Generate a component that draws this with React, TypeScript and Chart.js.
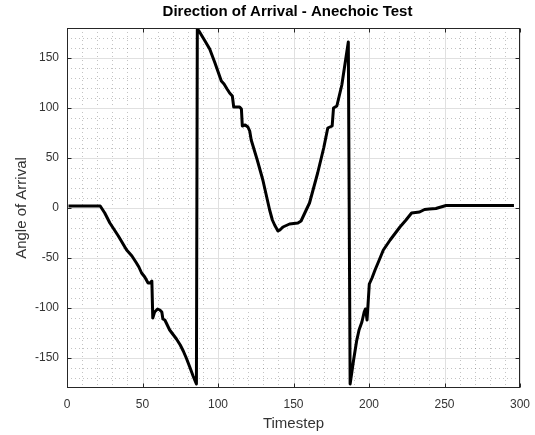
import React, { useEffect, useRef } from "react";
import { Chart, registerables } from "chart.js";

Chart.register(...registerables);

const chartTitle = "Direction of Arrival - Anechoic Test";
const xLabel = "Timestep";
const yLabel = "Angle of Arrival";

const xTicks = [0, 50, 100, 150, 200, 250, 300];
const yTicks = [-150, -100, -50, 0, 50, 100, 150];
const xMinor = [10, 20, 30, 40, 60, 70, 80, 90, 110, 120, 130, 140, 160, 170, 180, 190, 210, 220, 230, 240, 260, 270, 280, 290];
const yMinor = [-170, -160, -140, -130, -120, -110, -90, -80, -70, -60, -40, -30, -20, -10, 10, 20, 30, 40, 60, 70, 80, 90, 110, 120, 130, 140, 160, 170];

const timeSteps = [
  1, 22, 25, 28.4, 34, 39.5, 43, 46, 47.6, 49.4, 51.5, 53.7, 54.9, 56.2, 56.8, 58, 60, 61.5, 62.8, 63.5, 64.8, 68, 70, 72.5, 75, 77, 79, 81.3, 83.5, 85.7,
  86.3, 87.4, 91, 94.5, 98, 102.2, 104, 106, 107.7, 109.5, 110.4, 114.3, 115.5, 116.1, 118, 119.8, 121, 122, 126, 129.7, 134.2, 136, 137.5, 139.7, 141, 143, 147.4, 152.9, 155, 158.4, 160.6, 166, 170, 172.7, 175.6, 176.5, 178.7, 182, 186.3,
  187.5, 189.8, 191.8, 193.4, 195.3, 196.8, 197.6, 198.2, 198.7, 200.2, 202, 204, 206.5, 209.5, 214, 217.5, 220.5, 224.5, 228.2, 233.5, 236.8, 240, 244.3, 251, 296,
];
const angles = [
  2, 2, -5, -15, -28, -42, -48, -55, -59, -65, -69, -75, -75, -73, -110, -104, -101, -102, -104, -111, -112, -122, -126, -131, -137, -143, -150, -159, -168, -176,
  179, 177, 168, 159, 145, 127, 124, 119, 115, 112, 101, 101, 99, 82, 83, 81, 77, 68, 48, 28, -2, -12, -17, -23, -22, -19, -16, -15, -13, -2, 5, 35, 60, 80, 82, 100, 102, 123, 166,
  -176, -152, -133, -122, -114, -104, -101, -106, -112, -76, -70, -62, -53, -42, -32, -25, -19, -12, -5, -4, -1.5, -1, -0.5, 2.5, 2.5,
];

const FONT = '"Liberation Sans", Arial, Helvetica, sans-serif';
const AXIS_COLOR = "#262626";

const matlabPlugin = {
  id: "matlabLook",
  beforeDatasetsDraw(chart: any) {
    const { ctx, chartArea: a, scales } = chart;
    const x = scales.x;
    const y = scales.y;
    ctx.save();
    ctx.lineWidth = 1;
    // minor grid (dotted)
    ctx.strokeStyle = "rgba(38,38,38,0.28)";
    ctx.setLineDash([1, 3]);
    ctx.beginPath();
    for (const v of xMinor) {
      const px = Math.round(x.getPixelForValue(v)) + 0.5;
      ctx.moveTo(px, a.top);
      ctx.lineTo(px, a.bottom);
    }
    for (const v of yMinor) {
      const py = Math.round(y.getPixelForValue(v)) + 0.5;
      ctx.moveTo(a.left, py);
      ctx.lineTo(a.right, py);
    }
    ctx.stroke();
    // major grid
    ctx.setLineDash([]);
    ctx.strokeStyle = "#e0e0e0";
    ctx.beginPath();
    for (const v of xTicks) {
      const px = Math.round(x.getPixelForValue(v)) + 0.5;
      ctx.moveTo(px, a.top);
      ctx.lineTo(px, a.bottom);
    }
    for (const v of yTicks) {
      const py = Math.round(y.getPixelForValue(v)) + 0.5;
      ctx.moveTo(a.left, py);
      ctx.lineTo(a.right, py);
    }
    ctx.stroke();
    ctx.restore();
  },
  afterDraw(chart: any) {
    const { ctx, chartArea: a, scales } = chart;
    const x = scales.x;
    const y = scales.y;
    ctx.save();
    ctx.strokeStyle = AXIS_COLOR;
    ctx.lineWidth = 1;
    const l = Math.round(a.left) + 0.5;
    const r = Math.round(a.right) - 0.5;
    const t = Math.round(a.top) + 0.5;
    const b = Math.round(a.bottom) - 0.5;
    ctx.strokeRect(l, t, r - l, b - t);
    const tl = 4;
    ctx.beginPath();
    for (const v of xTicks) {
      const px = Math.round(x.getPixelForValue(v)) + 0.5;
      ctx.moveTo(px, b);
      ctx.lineTo(px, b - tl);
      ctx.moveTo(px, t);
      ctx.lineTo(px, t + tl);
    }
    for (const v of yTicks) {
      const py = Math.round(y.getPixelForValue(v)) + 0.5;
      ctx.moveTo(l, py);
      ctx.lineTo(l + tl, py);
      ctx.moveTo(r, py);
      ctx.lineTo(r - tl, py);
    }
    ctx.stroke();
    // title
    ctx.fillStyle = "#000";
    ctx.font = `bold 15px ${FONT}`;
    ctx.textAlign = "center";
    ctx.textBaseline = "middle";
    ctx.fillText(chartTitle, (a.left + a.right) / 2 - 6, 12);
    ctx.restore();
  },
};

export default function App() {
  const ref = useRef<HTMLCanvasElement | null>(null);
  useEffect(() => {
    if (!ref.current) return;
    const points = timeSteps.map((t, i) => ({ x: t, y: angles[i] }));
    const chart = new Chart(ref.current, {
      type: "line",
      data: {
        datasets: [
          {
            data: points,
            borderColor: "#000",
            borderWidth: 3,
            pointRadius: 0,
            fill: false,
            tension: 0,
            borderJoinStyle: "round",
          },
        ],
      },
      options: {
        animation: false,
        responsive: false,
        maintainAspectRatio: false,
        layout: { padding: { top: 28, right: 15, left: 0, bottom: 0 } },
        plugins: { legend: { display: false }, tooltip: { enabled: false }, title: { display: false } },
        scales: {
          x: {
            type: "linear",
            min: 0,
            max: 300,
            grid: { display: false, drawTicks: false },
            border: { display: false },
            afterBuildTicks: (s: any) => {
              s.ticks = xTicks.map((v) => ({ value: v }));
            },
            afterFit: (s: any) => {
              s.height = 47;
              s.paddingRight = 0;
              s.paddingLeft = 0;
            },
            ticks: { color: "#333", font: { family: FONT, size: 12 }, padding: 9, maxRotation: 0 },
            title: { display: true, text: xLabel, color: "#333", font: { family: FONT, size: 15 }, padding: { top: 0, bottom: 2 } },
          },
          y: {
            type: "linear",
            min: -180,
            max: 180,
            grid: { display: false, drawTicks: false },
            border: { display: false },
            afterBuildTicks: (s: any) => {
              s.ticks = yTicks.map((v) => ({ value: v }));
            },
            afterFit: (s: any) => {
              s.width = 67;
              s.paddingTop = 0;
              s.paddingBottom = 0;
            },
            ticks: { color: "#333", font: { family: FONT, size: 12 }, padding: 8 },
            title: { display: true, text: yLabel, color: "#333", font: { family: FONT, size: 15 }, padding: { top: 13, bottom: 0 } },
          },
        },
      },
      plugins: [matlabPlugin],
    });
    return () => chart.destroy();
  }, []);
  return (
    <div style={{ position: "absolute", left: 0, top: 0, width: 535, height: 435, background: "#fff" }}>
      <canvas ref={ref} width={535} height={435} />
    </div>
  );
}
